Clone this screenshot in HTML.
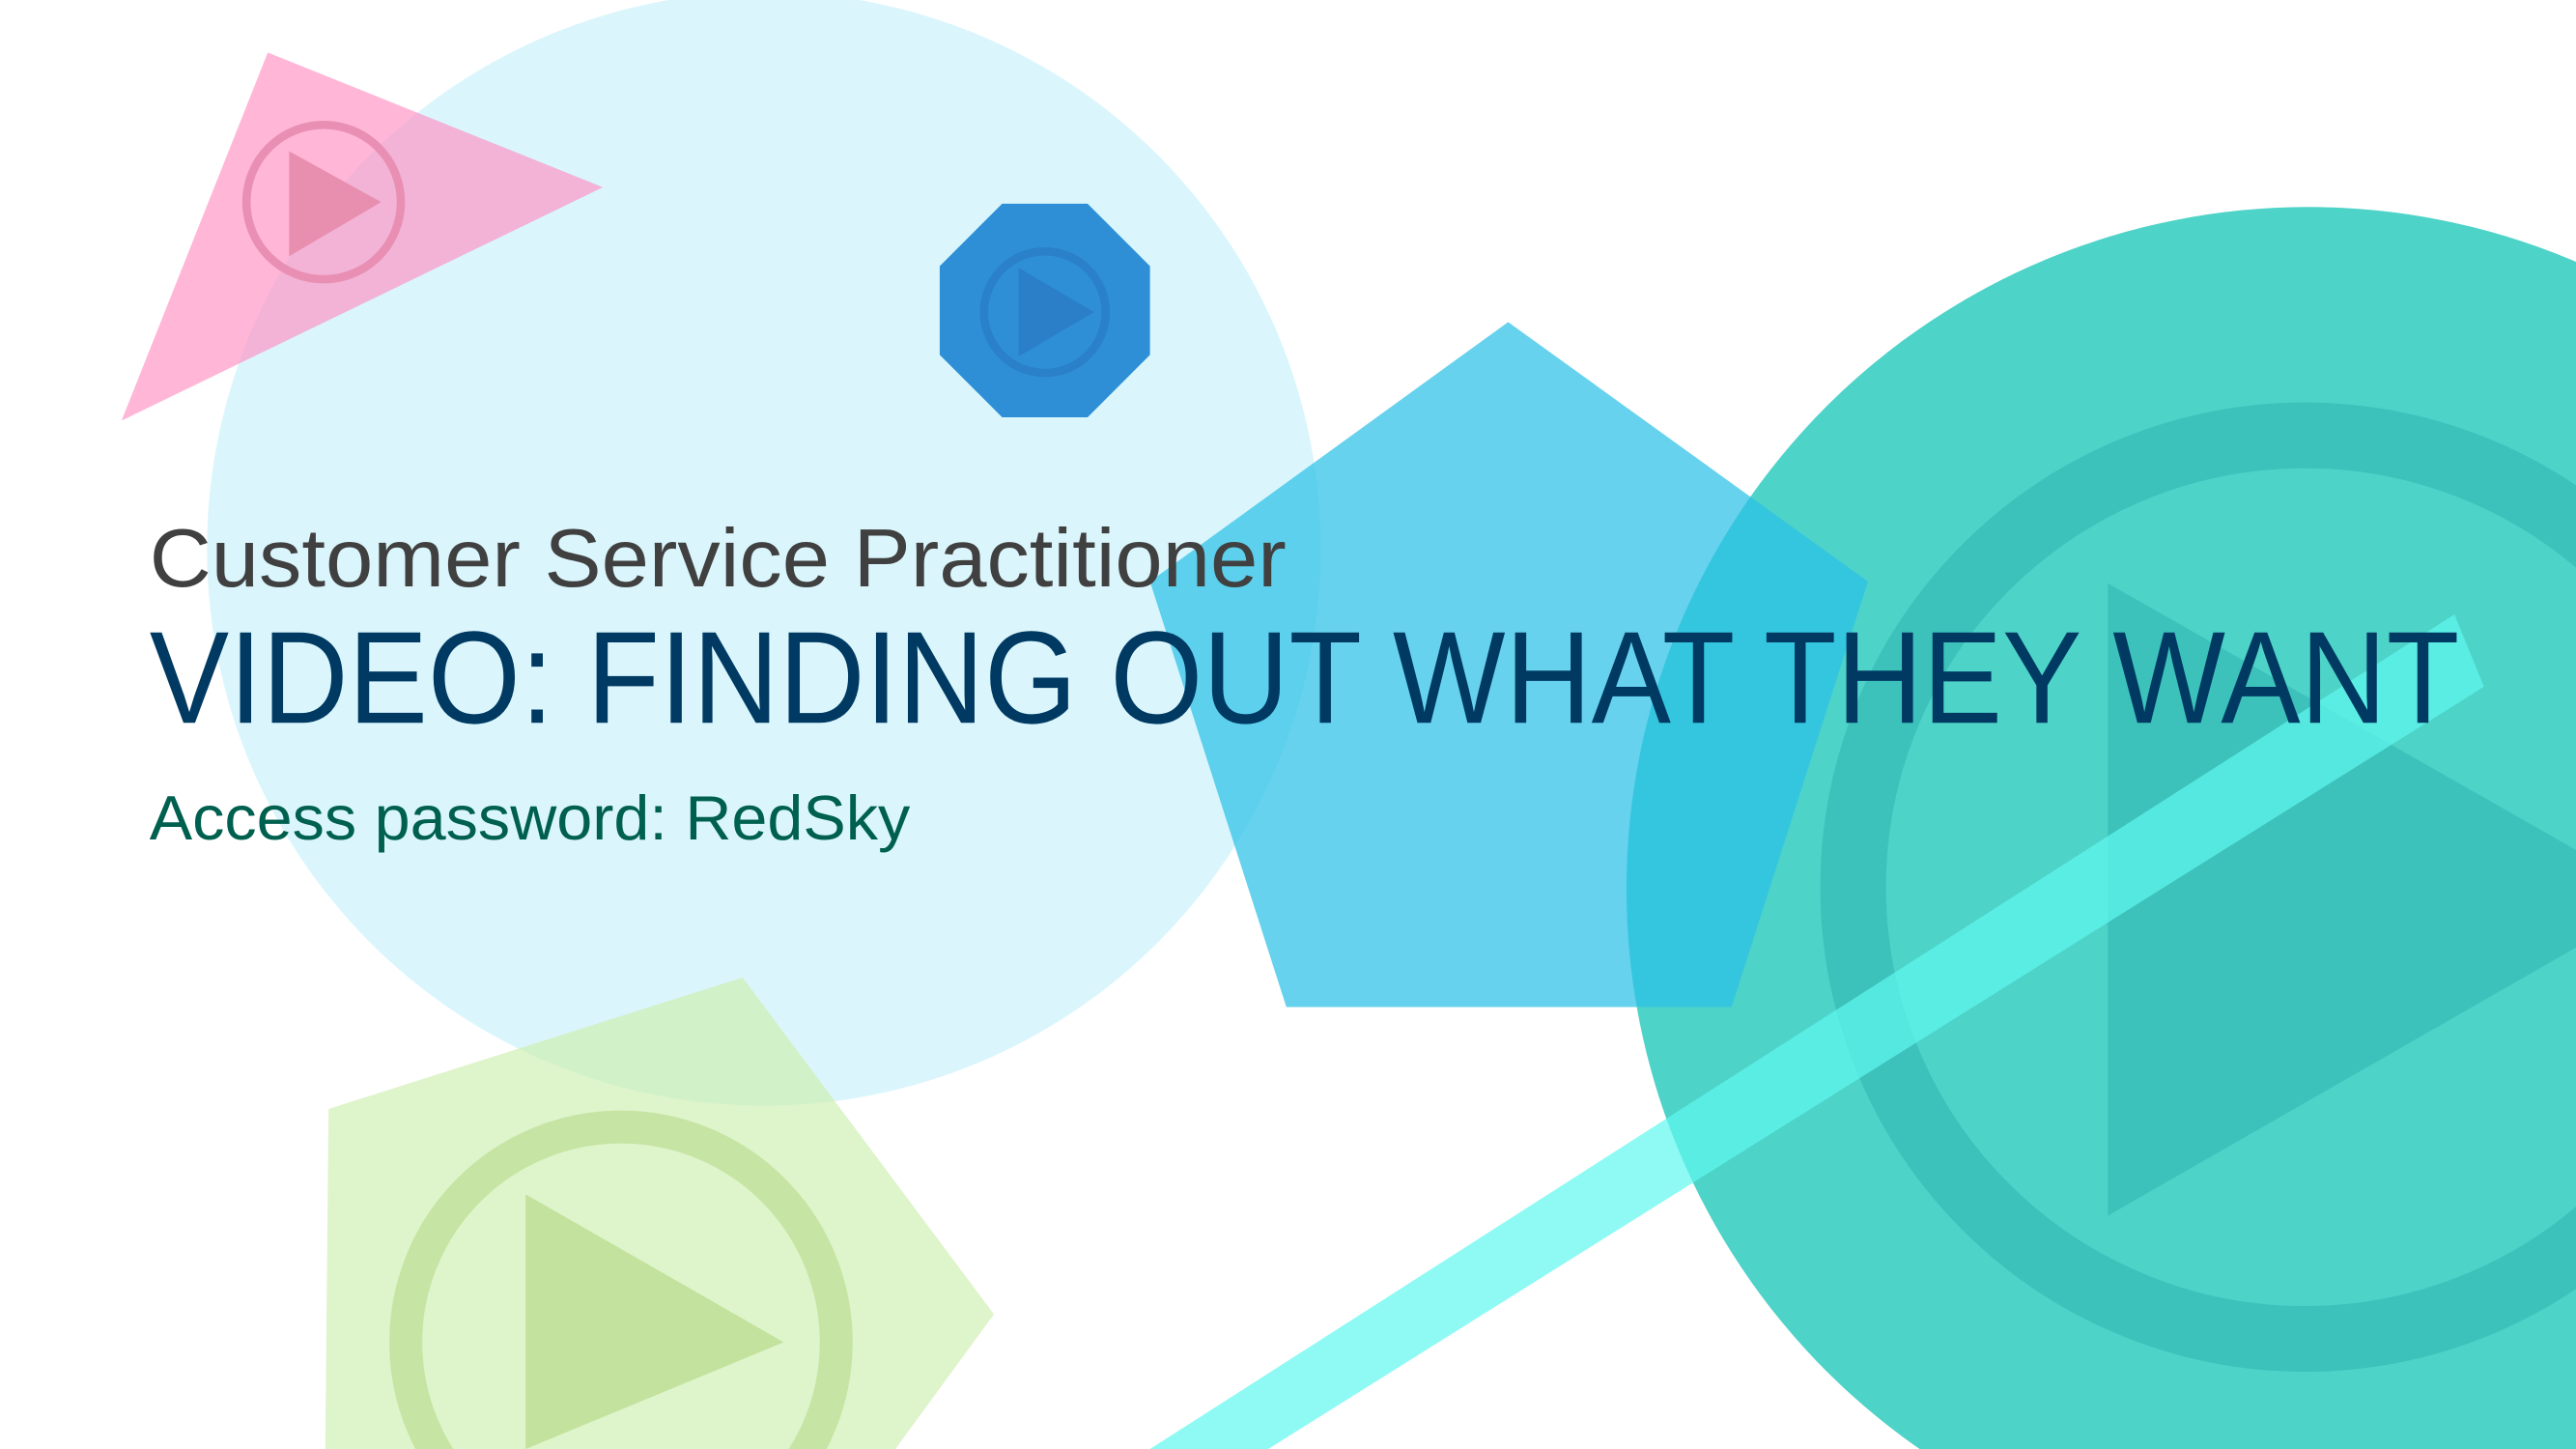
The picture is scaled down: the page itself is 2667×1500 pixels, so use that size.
<!DOCTYPE html>
<html><head><meta charset="utf-8"><style>
html,body{margin:0;padding:0;background:#fff;overflow:hidden;width:2667px;height:1500px}
svg{display:block;overflow:hidden}
</style></head><body>
<svg width="2667" height="1500" viewBox="0 0 1568 882" preserveAspectRatio="none" xmlns="http://www.w3.org/2000/svg">
<defs><clipPath id="frame"><rect width="1568" height="882"/></clipPath></defs>
<g clip-path="url(#frame)">
<rect width="1568" height="882" fill="#ffffff"/>
<circle cx="465" cy="334" r="339" fill="#daf6fc"/>
<polygon points="163,32 367,114 74,256" fill="#ff8fc2" fill-opacity="0.65"/>
<g>
<circle cx="197" cy="123" r="47" fill="none" stroke="#e88fb3" stroke-width="5"/>
<polygon points="176,92 176,156 232,123" fill="#e88fb0"/>
</g>
<polygon points="610,124 662,124 700,162 700,216 662,254 610,254 572,216 572,162" fill="#2e8fd6"/>
<g>
<circle cx="636" cy="190" r="37" fill="none" stroke="#2a80c9" stroke-width="5"/>
<polygon points="620,163 620,217 666,190" fill="#2a7fc8"/>
</g>
<polygon points="200,675 452,595 605,800 545,882 198,882" fill="#cdeead" fill-opacity="0.65"/>
<g>
<circle cx="378" cy="817" r="131" fill="none" stroke="#c6e4a3" stroke-width="20"/>
<polygon points="320,727 320,882 477,817" fill="#c2e29d"/>
</g>
<circle cx="1405" cy="541" r="415" fill="#22c8ba" fill-opacity="0.8"/>
<g>
<circle cx="1403" cy="540" r="275" fill="none" stroke="#3cc2bb" stroke-width="40"/>
<polygon points="1283,355 1283,740 1620,547" fill="#3cc2bb"/>
</g>
<polygon points="918,196 1137,354 1054,613 783,613 700,354" fill="#2cc0e8" fill-opacity="0.72"/>
<polygon points="700,882 772,882 1512,418 1494,374" fill="#5ff8ef" fill-opacity="0.7"/>
<text x="91" y="357" font-family="Liberation Sans, Arial, sans-serif" font-size="50" fill="#404040" textLength="692" lengthAdjust="spacingAndGlyphs">Customer Service Practitioner</text>
<text x="91" y="440" font-family="Liberation Sans, Arial, sans-serif" font-size="80" fill="#003a63" textLength="1406" lengthAdjust="spacingAndGlyphs">VIDEO: FINDING OUT WHAT THEY WANT</text>
<text x="91" y="511" font-family="Liberation Sans, Arial, sans-serif" font-size="38" fill="#00604f" textLength="463" lengthAdjust="spacingAndGlyphs">Access password: RedSky</text>
</g>
</svg>
</body></html>
